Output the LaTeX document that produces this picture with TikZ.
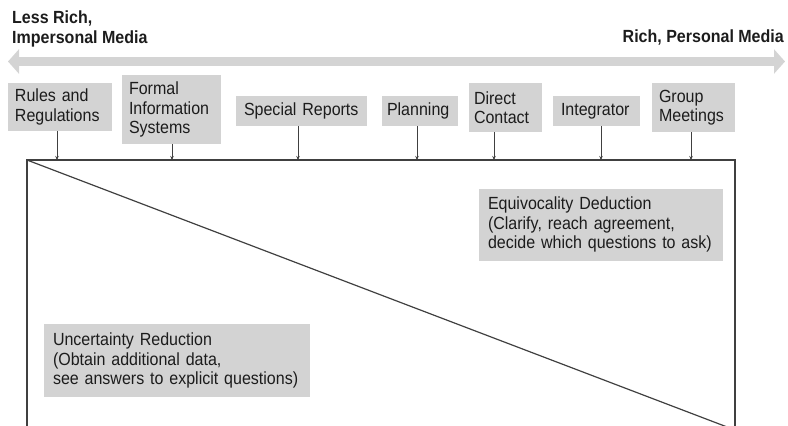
\documentclass[tikz,border=0pt]{standalone}
\usepackage{fontspec}
\setmainfont{Liberation Sans}[FakeStretch=0.91]
\usetikzlibrary{arrows.meta}
\definecolor{boxgray}{HTML}{D3D3D3}
\definecolor{bandgray}{HTML}{D4D4D4}
\definecolor{inkgray}{HTML}{1C1C1C}
\definecolor{linegray}{HTML}{404040}
\tikzset{
  txt/.style={font=\fontsize{17.6}{19.5}\selectfont, text=inkgray},
  media/.style={txt, inner sep=0pt, align=left},
  medbox/.style={txt, fill=boxgray, inner xsep=7pt, inner ysep=0pt, align=left},
  feed/.style={draw=linegray, line width=1pt, -{Stealth[length=4pt,width=3.5pt]}},
  frame/.style={draw=linegray, line width=1.3pt},
  band/.style={draw=bandgray, line width=9pt,
    {Triangle[length=11pt,width=24pt]}-{Triangle[length=11pt,width=24pt]}}
}
\begin{document}
\begin{tikzpicture}[x=1pt,y=-1pt]
  \useasboundingbox (0,0) rectangle (788,426);

  % richness scale
  \node[media, font=\bfseries\fontsize{17.6}{19.5}\selectfont, anchor=north west] (less) at (12,11) {Less Rich,\\Impersonal Media};
  \node[media, font=\bfseries\fontsize{17.6}{19.5}\selectfont, anchor=north east] (rich) at (784,30) {Rich, Personal Media};
  \coordinate (lessend) at (8,61.5);
  \coordinate (richend) at (785,61.5);
  \draw[band] (lessend) -- (richend);

  % media boxes
  \node[medbox, text width=90pt, minimum height=48pt] (rules)   at (60,107)    {Rules and\\Regulations};
  \node[medbox, text width=85pt, minimum height=69pt] (formal)  at (171.5,109.5) {Formal\\Information\\Systems};
  \node[medbox, inner xsep=8pt, text width=115pt, minimum height=30pt] (special) at (301.5,111) {Special Reports};
  \node[medbox, inner xsep=5pt, text width=66pt, minimum height=30pt] (plan) at (420,111) {Planning};
  \node[medbox, inner xsep=5pt, text width=63pt, minimum height=49pt] (direct) at (505.5,107.5) {Direct\\Contact};
  \node[medbox, inner xsep=8pt, text width=71pt, minimum height=30pt] (integ) at (596.5,111) {Integrator};
  \node[medbox, inner xsep=7pt, text width=69pt, minimum height=49pt] (group) at (693.5,107.5) {Group\\Meetings};

  % information processing frame
  \coordinate (tl) at (27,160);
  \coordinate (tr) at (735,160);
  \coordinate (bl) at (27,432);
  \coordinate (br) at (735,432);
  \draw[frame] (bl) -- (tl) -- (tr) -- (br);
  \draw[draw=linegray, line width=1.2pt] (tl) -- (735,430);

  % feeds into the frame
  \coordinate (f1) at (57,160);
  \coordinate (f2) at (172,160);
  \coordinate (f3) at (298,160);
  \coordinate (f4) at (417,160);
  \coordinate (f5) at (494,160);
  \coordinate (f6) at (601,160);
  \coordinate (f7) at (691,160);
  \draw[feed] (rules.south -| f1) -- (f1);
  \draw[feed] (formal.south -| f2) -- (f2);
  \draw[feed] (special.south -| f3) -- (f3);
  \draw[feed] (plan.south -| f4) -- (f4);
  \draw[feed] (direct.south -| f5) -- (f5);
  \draw[feed] (integ.south -| f6) -- (f6);
  \draw[feed] (group.south -| f7) -- (f7);

  % regions
  \node[medbox, inner xsep=9pt, text width=226pt, minimum height=72pt] (equiv) at (601,224.5)
    {Equivocality Deduction\\(Clarify, reach agreement,\\decide which questions to ask)};
  \node[medbox, inner xsep=9pt, text width=248pt, minimum height=73pt] (uncert) at (177,360.5)
    {Uncertainty Reduction\\(Obtain additional data,\\see answers to explicit questions)};
\end{tikzpicture}
\end{document}
